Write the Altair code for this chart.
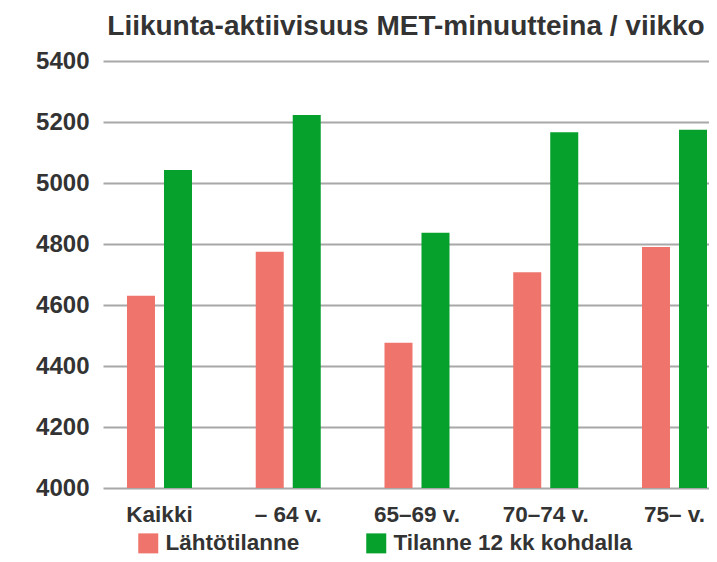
import altair as alt
import pandas as pd

categories = ["Kaikki", "– 64 v.", "65–69 v.", "70–74 v.", "75– v."]
series_names = ["Lähtötilanne", "Tilanne 12 kk kohdalla"]
baseline_values = [4630, 4775, 4476, 4707, 4790]
followup_values = [5043, 5223, 4837, 5166, 5175]
y_ticks = [4000, 4200, 4400, 4600, 4800, 5000, 5200, 5400]
colors = ["#EF746C", "#06A12D"]

rows = []
for c, v in zip(categories, baseline_values):
    rows.append({"ryhmä": c, "sarja": series_names[0], "arvo": v})
for c, v in zip(categories, followup_values):
    rows.append({"ryhmä": c, "sarja": series_names[1], "arvo": v})
df = pd.DataFrame(rows)

FONT = "Liberation Sans"
TXT = "#333333"

chart = (
    alt.Chart(df)
    .mark_bar(clip=True)
    .encode(
        x=alt.X(
            "ryhmä:N",
            sort=categories,
            scale=alt.Scale(paddingInner=0.495, paddingOuter=0.1009, align=0.923),
            axis=alt.Axis(
                title=None,
                labelAngle=0,
                labelFont=FONT,
                labelFontSize=22.5,
                labelFontWeight="bold",
                labelColor=TXT,
                labelPadding=15,
                domain=False,
                ticks=False,
                grid=False,
            ),
        ),
        xOffset=alt.XOffset(
            "sarja:N",
            sort=series_names,
            scale=alt.Scale(domain=series_names, paddingInner=0.243, paddingOuter=0),
        ),
        y=alt.Y(
            "arvo:Q",
            scale=alt.Scale(domain=[4000, 5400], nice=False, zero=False),
            axis=alt.Axis(
                title=None,
                values=y_ticks,
                format="d",
                labelFont=FONT,
                labelFontSize=24,
                labelFontWeight="bold",
                labelColor=TXT,
                labelPadding=14,
                domain=False,
                ticks=False,
                grid=True,
                gridColor="#A8A8A8",
                gridWidth=2,
            ),
        ),
        y2=alt.Y2(datum=4000),
        color=alt.Color(
            "sarja:N",
            scale=alt.Scale(domain=series_names, range=colors),
            legend=alt.Legend(
                title=None,
                orient="none",
                direction="horizontal",
                legendX=34,
                legendY=471,
                symbolType="square",
                symbolSize=400,
                symbolStrokeWidth=0,
                symbolOpacity=1,
                labelFont=FONT,
                labelFontSize=22.5,
                labelFontWeight="bold",
                labelColor=TXT,
                labelOffset=6,
                columnPadding=65,
                labelLimit=400,
            ),
        ),
    )
    .properties(
        width=606,
        height=427,
        background="white",
        autosize=alt.AutoSizeParams(type="none"),
        padding={"left": 95, "top": 53, "right": 0, "bottom": 66},
        title=alt.TitleParams(
            "Liikunta-aktiivisuus MET-minuutteina / viikko",
            font=FONT,
            fontSize=28,
            fontWeight="bold",
            color=TXT,
            anchor="middle",
            frame="group",
            offset=8,
        ),
    )
    .configure_view(strokeWidth=0, stroke="transparent")
)

chart.save("out.html", embed_options={"renderer": "svg", "actions": False})
